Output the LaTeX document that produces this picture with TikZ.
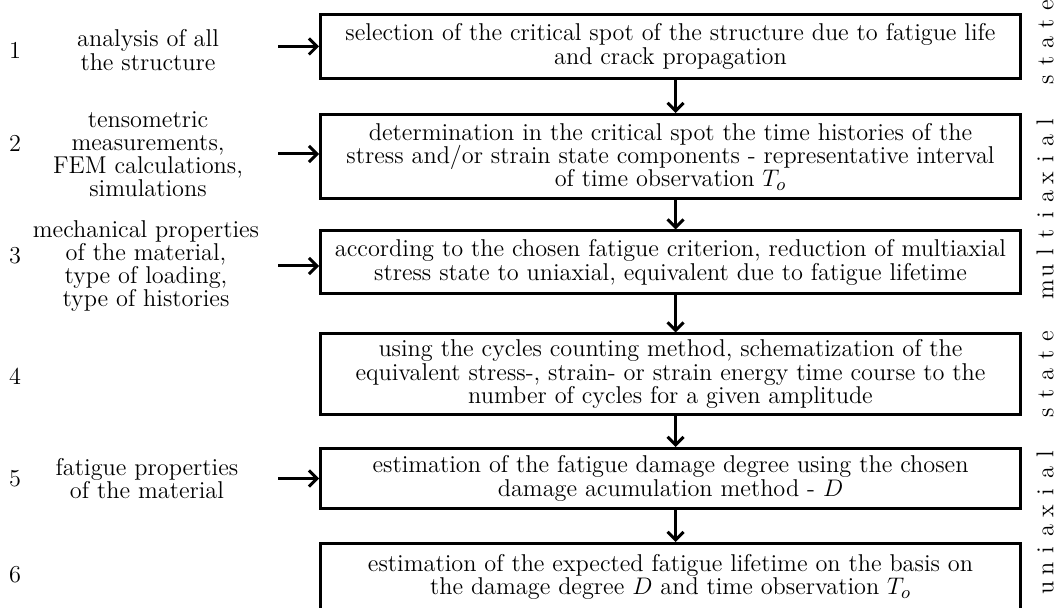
\documentclass[tikz,border=0pt]{standalone}
\usetikzlibrary{arrows.meta}
\newcommand\lcell[1]{\makebox[9.3pt]{#1}}
\newcommand\ucell[1]{\makebox[9.6pt]{#1}}
\begin{document}
\begin{tikzpicture}[x=0.5pt,y=-0.5pt,
  every node/.style={font=\fontsize{12.15}{11.6}\selectfont},
  stepbox/.style={draw, line width=1.5pt, minimum width=350pt, inner sep=0pt, align=center},
  arr/.style={line width=1.5pt, -{Straight Barb[length=4pt,width=8pt]}},
  lbl/.style={align=center},
  num/.style={},
  side/.style={rotate=90, inner sep=0pt}]
\useasboundingbox (0,0) rectangle (1058,608);
\begin{scope}
\clip (0,0) rectangle (1058,608);
\node[stepbox, minimum height=32pt] (b1) at (670.5,46.5) {selection of the critical spot of the structure due to fatigue life\\and crack propagation};
\node[stepbox, minimum height=42pt] (b2) at (670.5,156.5) {determination in the critical spot the time histories of the\\stress and/or strain state components - representative interval\\of time observation $T_o$};
\node[stepbox, minimum height=31.5pt] (b3) at (670.5,262.5) {according to the chosen fatigue criterion, reduction of multiaxial\\stress state to uniaxial, equivalent due to fatigue lifetime};
\node[stepbox, minimum height=40pt] (b4) at (670.5,374) {using the cycles counting method, schematization of the\\equivalent stress-, strain- or strain energy time course to the\\number of cycles for a given amplitude};
\node[stepbox, minimum height=30pt] (b5) at (670.5,478.5) {estimation of the fatigue damage degree using the chosen\\damage acumulation method - $D$};
\node[stepbox, minimum height=33.5pt] (b6) at (670.5,577) {estimation of the expected fatigue lifetime on the basis on\\the damage degree $D$ and time observation $T_o$};
\end{scope}

\draw[arr] ([xshift=2.5pt]b1.south) -- ([xshift=2.5pt]b2.north);
\draw[arr] ([xshift=2.5pt]b2.south) -- ([xshift=2.5pt]b3.north);
\draw[arr] ([xshift=2.5pt]b3.south) -- ([xshift=2.5pt]b4.north);
\draw[arr] ([xshift=2.5pt]b4.south) -- ([xshift=2.5pt]b5.north);
\draw[arr] ([xshift=2.5pt]b5.south) -- ([xshift=2.5pt]b6.north);

\node[num] (n1) at (15,50) {1};
\node[num] (n2) at (15,143) {2};
\node[num] (n3) at (15,256) {3};
\node[num] (n4) at (15,376) {4};
\node[num] (n5) at (15,478.5) {5};
\node[num] (n6) at (15,575) {6};

\node[lbl] (l1) at (148,50) {analysis of all\\the structure};
\node[lbl] (l2) at (148,154) {tensometric\\measurements,\\FEM calculations,\\simulations};
\node[lbl] (l3) at (146,266) {mechanical properties\\of the material,\\type of loading,\\type of histories};
\node[lbl] (l5) at (147,478.5) {fatigue properties\\of the material};

\coordinate (s1) at (278,46.5);
\coordinate (s2) at (278,154);
\coordinate (s3) at (278,266);
\coordinate (s5) at (278,478.5);
\draw[arr] (s1) -- (s1 -| b1.west);
\draw[arr] (s2) -- (s2 -| b2.west);
\draw[arr] (s3) -- (s3 -| b3.west);
\draw[arr] (s5) -- (s5 -| b5.west);

\node[side] (ms) at (1045,147.5) {\lcell{m}\lcell{u}\lcell{l}\lcell{t}\lcell{i}\lcell{a}\lcell{x}\lcell{i}\lcell{a}\lcell{l}\hspace{12pt}\lcell{s}\lcell{t}\lcell{a}\lcell{t}\lcell{e}};
\node[side] (us) at (1045,462) {\ucell{u}\ucell{n}\ucell{i}\ucell{a}\ucell{x}\ucell{i}\ucell{a}\ucell{l}\hspace{11pt}\ucell{s}\ucell{t}\ucell{a}\ucell{t}\ucell{e}};
\end{tikzpicture}
\end{document}
